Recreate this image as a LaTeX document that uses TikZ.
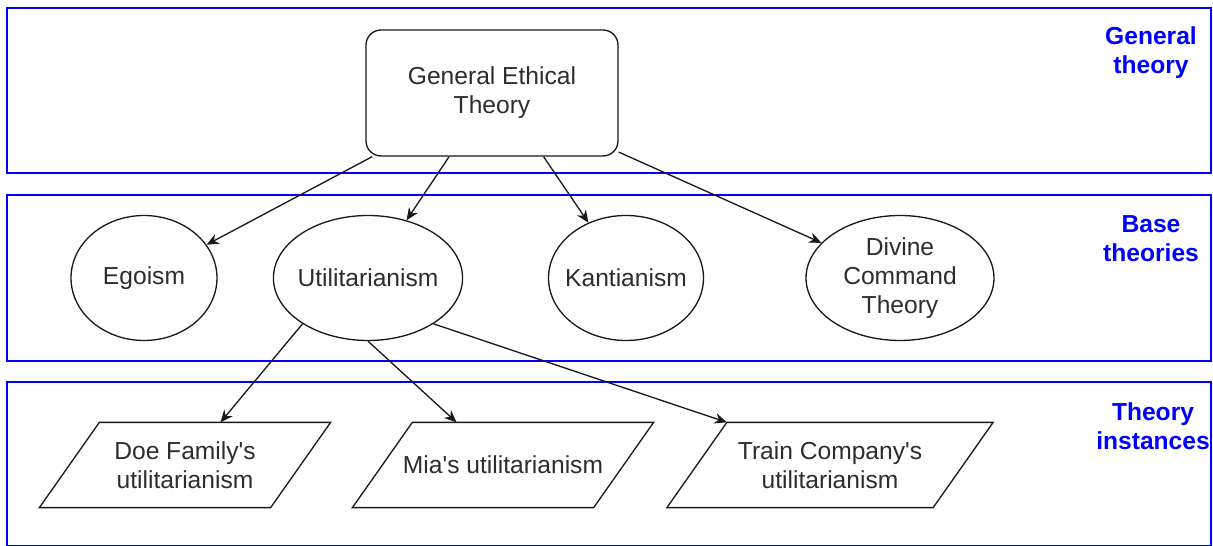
\documentclass[tikz,border=0pt]{standalone}
\usepackage{fontspec}
\setmainfont{Liberation Sans}
\usepackage{xcolor}
\definecolor{band-blue}{RGB}{0,0,255}
\definecolor{text-grey}{RGB}{45,45,45}
\usetikzlibrary{shapes.geometric,arrows.meta}

\begin{document}
\begin{tikzpicture}	[x=0.02cm,y=-0.02cm,>={Stealth[length=7pt,width=6pt]},
	band/.style={draw=band-blue,line width=1.6pt},
	level/.style={text=band-blue,font=\bfseries\fontsize{14}{16.5}\selectfont,align=center},
	thing/.style={draw=black!90,line width=0.75pt,text=text-grey,font=\fontsize{14}{16.5}\selectfont,align=center,inner sep=0pt},
	theory/.style={thing,ellipse,minimum height=2.5cm},
	instance/.style={thing,draw=none,minimum height=1.68cm},
	outline/.style={draw=black!90,line width=0.75pt},
	link/.style={->,line width=0.75pt,black!90}]
	
	\path[use as bounding box,fill=white] (0,0) rectangle (1213,546);
	
	% the three layers
	\draw[band] (7,8) rectangle (1211,173);
	\draw[band] (7,195) rectangle (1211,361);
	\draw[band] (7,382) rectangle (1211,546);
	
	\node[level] (lvl-general) at (1151,53) {General\\theory};
	\node[level] (lvl-base) at (1151,239) {Base\\theories};
	\node[level] (lvl-instance) at (1153,426) {Theory\\instances};
	
	\node[thing,rounded corners=0.3cm,minimum width=5.04cm,minimum height=2.52cm]
		(get) at (492,93) {General Ethical\\Theory};
	
	\node[theory,minimum width=2.92cm] (ego) at (144,278) {Egoism};
	\node[theory,minimum width=3.78cm,inner xsep=-2pt] (util) at (368,278) {Utilitarianism};
	\node[theory,minimum width=3.1cm,inner xsep=-3.5pt] (kant) at (626,278) {Kantianism};
	\node[theory,minimum width=3.76cm] (dct) at (900,278) {Divine\\Command\\Theory};
	
	\node[instance,minimum width=4.6cm] (doe) at (185,465)
		{Doe Family\textquotesingle s\\utilitarianism};
	\node[instance,minimum width=4.8cm] (mia) at (503,465)
		{Mia\textquotesingle s utilitarianism};
	\node[instance,minimum width=5.3cm] (train) at (830,465)
		{Train Company\textquotesingle s\\utilitarianism};
	
	% slanted boxes round the instances
	\foreach \n in {doe,mia,train}
		\draw[outline] ([xshift=0.6cm]\n.north west) -- ([xshift=0.6cm]\n.north east)
			-- ([xshift=-0.6cm]\n.south east) -- ([xshift=-0.6cm]\n.south west) -- cycle;
	
	\draw[link] (get.208) -- (ego);
	\draw[link] (get.236) -- (util);
	\draw[link] (get.309) -- (kant);
	\draw[link] (get.335) -- (dct);
	
	\draw[link] (util.215) -- (doe);
	\draw[link] (util.south) -- (mia);
	\draw[link] (util.325) -- ([xshift=0.6cm]train.north west);
	
\end{tikzpicture}
\end{document}
